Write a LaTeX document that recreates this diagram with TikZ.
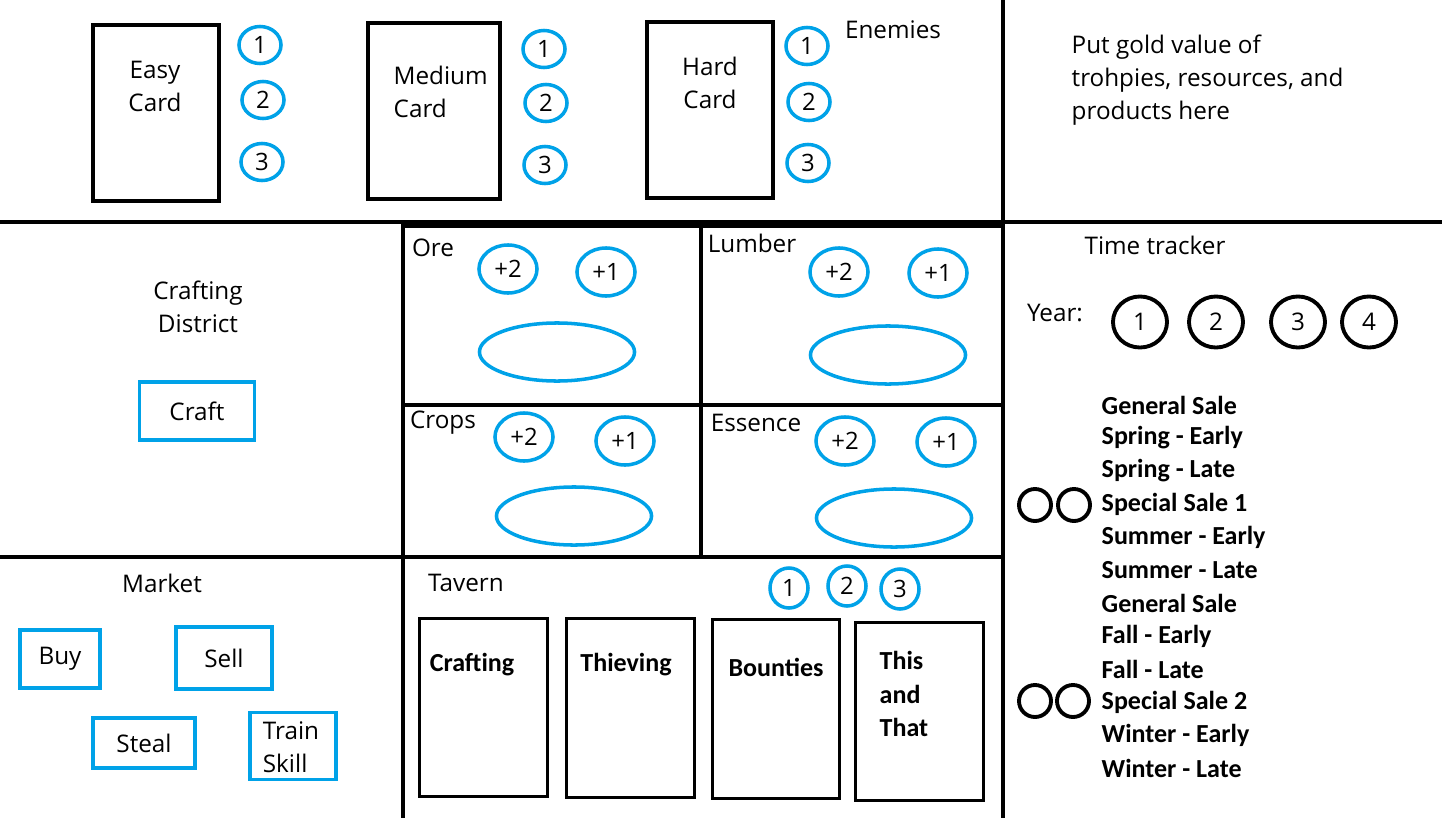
\documentclass[tikz,border=0pt]{standalone}
\usepackage{fontspec}
\setmainfont{Carlito}
\newfontfamily\segoe{Open Sans}
\usetikzlibrary{shapes.geometric}
\definecolor{paintblue}{RGB}{0,162,232}

\tikzset{
    board/.style={line width=1.3pt},
    card/.style={rectangle,draw=black,line width=1.1pt,minimum width=1.26cm,minimum height=1.76cm},
    slot/.style={rectangle,draw=paintblue,line width=1.1pt},
    num/.style={ellipse,draw=paintblue,line width=1pt,inner sep=0pt,font=\segoe\fontsize{6.8}{7}\selectfont},
    pool/.style={ellipse,draw=paintblue,line width=1pt,minimum width=1.55cm,minimum height=0.58cm},
    year/.style={ellipse,draw=black,line width=1.1pt,minimum width=0.54cm,minimum height=0.51cm,inner sep=0pt},
    tick/.style={circle,draw=black,line width=1.1pt,minimum size=0.32cm,inner sep=0pt},
    lbl/.style={font=\segoe\fontsize{6.9}{9.4}\selectfont,inner sep=0pt},
    cal/.style={font=\bfseries\fontsize{7.4}{9.4}\selectfont,inner sep=0pt}
}

\begin{document}
\begin{tikzpicture}[x=0.01cm,y=-0.01cm]
\useasboundingbox (0,0) rectangle (1442,818);

% board
\draw[board] (0,222) -- (1442,222);
\draw[board] (1003,0) -- (1003,818);
\draw[board] (0,557) -- (1003,557);
\draw[board] (403,222) -- (403,818);
\draw[board] (403,226) -- (1003,226);
\draw[board] (701,226) -- (701,557);
\draw[board] (403,405) -- (1003,405);

% enemies
\begin{scope}[every node/.style={num,minimum width=0.42cm,minimum height=0.37cm}]
    \node (e1) at (260,45) {1};
    \node (e2) at (263,100) {2};
    \node (e3) at (262,162) {3};
    \node (m1) at (544,49) {1};
    \node (m2) at (546,103) {2};
    \node (m3) at (545,165) {3};
    \node (h1) at (807,46) {1};
    \node (h2) at (809,102) {2};
    \node (h3) at (808,163) {3};
\end{scope}
\node (easy) at (156,113) [card] {};
\node (medium) at (434,111) [card,minimum width=1.32cm] {};
\node (hard) at (710,110) [card] {};
\node (easyt) at (155,86) [lbl,align=center] {Easy\\Card};
\node (mediumt) at (393,92) [lbl,anchor=west,align=left] {Medium\\Card};
\node (hardt) at (710,83) [lbl,align=center] {Hard\\Card};
\node (enemies) at (893,30) [lbl] {Enemies};
\node (gold) at (1071,80) [lbl,anchor=west,align=left] {Put gold value of\\trohpies, resources, and\\products here};

% crafting district
\node (district) at (198,307) [lbl,align=center] {Crafting\\District};
\node (craft) at (197,411) [slot,lbl,minimum width=1.15cm,minimum height=0.58cm] {Craft};

% resources
\node (ore) at (433,248) [lbl] {Ore};
\node (lumber) at (752,243) [lbl] {Lumber};
\node (crops) at (443,423) [lbl] {Crops};
\node (essence) at (756,423) [lbl] {Essence};
\begin{scope}[every node/.style={num,minimum width=0.58cm,minimum height=0.48cm}]
    \node (ore2) at (508,269) {+2};
    \node (ore1) at (606,272) {+1};
    \node (lum2) at (839,272) {+2};
    \node (lum1) at (938,273) {+1};
    \node (crp2) at (524,437) {+2};
    \node (crp1) at (625,441) {+1};
    \node (ess2) at (845,441) {+2};
    \node (ess1) at (946,442) {+1};
\end{scope}
\node (orepool) at (557,352) [pool] {};
\node (lumpool) at (888,355) [pool] {};
\node (crppool) at (574,516) [pool] {};
\node (esspool) at (894,518) [pool] {};

% time tracker
\node (tracker) at (1155,245) [lbl] {Time tracker};
\node (yeart) at (1055,313) [lbl] {Year:};
\foreach \n/\x in {1/1140,2/1216,3/1298,4/1369}
    \node (y\n) at (\x,322) [year,lbl] {\n};
\foreach \s [count=\i from 0] in {General Sale,Spring - Early,Spring - Late,Special Sale 1,
        Summer - Early,Summer - Late,General Sale,Fall - Early,Fall - Late,Special Sale 2,
        Winter - Early,Winter - Late}
    \node (s\i) at (1101,405+33*\i) [cal,anchor=west] {\s};
\node (t1a) at (1035,505) [tick] {};
\node (t1b) at (1074,505) [tick] {};
\node (t2a) at (1035,701) [tick] {};
\node (t2b) at (1073,701) [tick] {};

% market
\node (market) at (162,583) [lbl] {Market};
\node (buy) at (60,659) [slot,lbl,minimum width=0.80cm,minimum height=0.58cm] {Buy};
\node (sell) at (224,658) [slot,lbl,minimum width=0.96cm,minimum height=0.62cm] {Sell};
\node (steal) at (144,743) [slot,lbl,minimum width=1.02cm,minimum height=0.50cm] {Steal};
\node (train) at (293,746) [slot,minimum width=0.86cm,minimum height=0.67cm] {};
\node (traint) at (291,747) [lbl,align=left] {Train\\Skill};

% tavern
\node (tavern) at (466,583) [lbl] {Tavern};
\begin{scope}[every node/.style={num,minimum width=0.38cm,minimum height=0.40cm}]
    \node (b1) at (789,588) {1};
    \node (b2) at (847,586) {2};
    \node (b3) at (900,589) {3};
\end{scope}
\node (tcraft) at (483.5,707.5) [card,minimum width=1.28cm,minimum height=1.78cm] {};
\node (tthief) at (630.5,708) [card,minimum width=1.28cm,minimum height=1.79cm] {};
\node (tbounty) at (776,709) [card,minimum width=1.27cm,minimum height=1.79cm] {};
\node (tthat) at (919.5,711.5) [card,minimum width=1.28cm,minimum height=1.78cm] {};
\node (tcraftt) at (472,665) [cal] {Crafting};
\node (tthieft) at (626,665) [cal] {Thieving};
\node (tbountyt) at (776,667) [cal] {Bounties};
\node (tthatt) at (879,694) [cal,anchor=west,align=left] {This\\and\\That};
\end{tikzpicture}
\end{document}
